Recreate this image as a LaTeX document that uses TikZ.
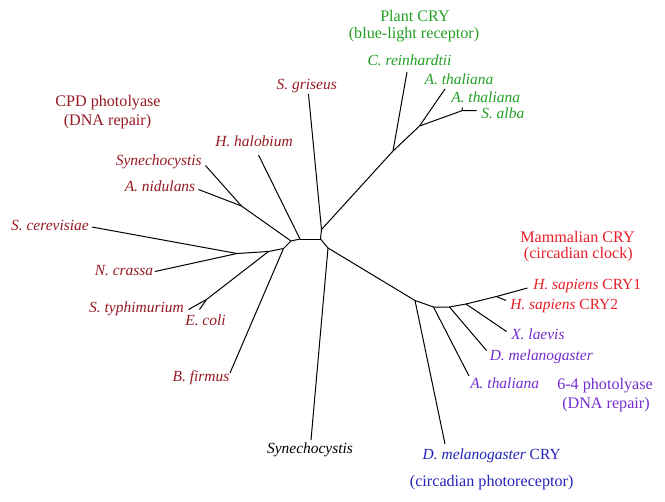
\documentclass[tikz,border=0pt]{standalone}
\usepackage{fontspec}
\setmainfont{Liberation Serif}
\definecolor{cpd}{RGB}{150,25,35}
\definecolor{plant}{RGB}{35,160,35}
\definecolor{mamm}{RGB}{232,30,40}
\definecolor{sixfour}{RGB}{115,45,205}
\definecolor{dmcry}{RGB}{35,35,185}
\begin{document}
\begin{tikzpicture}[x=0.75pt,y=-0.75pt,
  br/.style={line width=0.75pt,black},
  lab/.style={inner sep=0pt,font=\fontsize{11.6}{13}\selectfont\itshape},
  grp/.style={inner sep=0pt,font=\fontsize{12.1}{14}\selectfont}]
\useasboundingbox (0,0) rectangle (665,501);
% internal nodes
\coordinate (E) at (300,239);
\coordinate (F) at (320.5,239);
\coordinate (D) at (291,241);
\coordinate (A) at (283.5,248.5);
\coordinate (B) at (268.5,251.5);
\coordinate (C) at (237,253.5);
\coordinate (ET) at (206.5,299.5);
\coordinate (SN) at (241.5,206);
\coordinate (G) at (321.5,229.5);
\coordinate (P) at (393,151);
\coordinate (Q) at (419.5,126);
\coordinate (R) at (462,110.7);
\coordinate (H) at (328,248);
\coordinate (I) at (415,300.5);
\coordinate (J) at (433.5,307);
\coordinate (K) at (449.5,307);
\coordinate (L) at (466,304);
\coordinate (M) at (496.5,296.5);
% leaf ends
\coordinate (scE) at (92,227);
\coordinate (ncE) at (155,271.5);
\coordinate (ecE) at (199.5,309.5);
\coordinate (stE) at (188.5,309.5);
\coordinate (bfE) at (230,373);
\coordinate (synE) at (205.5,165.5);
\coordinate (anE) at (198.5,189.5);
\coordinate (hhE) at (258.5,155);
\coordinate (sgE) at (308.5,94);
\coordinate (crE) at (407,72);
\coordinate (at1E) at (445,89);
\coordinate (at2E) at (462.5,107.5);
\coordinate (saE) at (476.5,110.7);
\coordinate (sybE) at (311,440);
\coordinate (dmcE) at (445,444);
\coordinate (atpE) at (469,376);
\coordinate (dmE) at (486.5,350.5);
\coordinate (xlE) at (506.5,331.5);
\coordinate (c2E) at (506,300.5);
\coordinate (c1E) at (527.5,288);
% branches
\draw[br] (E) -- (F);
\draw[br] (E) -- (D) -- (A) -- (B) -- (C);
\draw[br] (C) -- (scE);
\draw[br] (C) -- (ncE);
\draw[br] (B) -- (ET);
\draw[br] (ET) -- (ecE);
\draw[br] (ET) -- (stE);
\draw[br] (A) -- (bfE);
\draw[br] (D) -- (SN);
\draw[br] (SN) -- (synE);
\draw[br] (SN) -- (anE);
\draw[br] (E) -- (hhE);
\draw[br] (F) -- (G);
\draw[br] (G) -- (sgE);
\draw[br] (G) -- (P) -- (Q) -- (R) -- (saE);
\draw[br] (P) -- (crE);
\draw[br] (Q) -- (at1E);
\draw[br] (R) -- (at2E);
\draw[br] (F) -- (H);
\draw[br] (H) -- (sybE);
\draw[br] (H) -- (I) -- (J) -- (K) -- (L) -- (M) -- (c1E);
\draw[br] (I) -- (dmcE);
\draw[br] (J) -- (atpE);
\draw[br] (K) -- (dmE);
\draw[br] (L) -- (xlE);
\draw[br] (M) -- (c2E);
% labels CPD
\node[grp,text=cpd] (cpd1) at (108,103) {CPD photolyase};
\node[grp,text=cpd] (cpd2) at (107.5,122) {(DNA repair)};
\node[lab,text=cpd,anchor=east] (sc) at (89,225) {S. cerevisiae};
\node[lab,text=cpd,anchor=east] (nc) at (153.5,271) {N. crassa};
\node[lab,text=cpd,anchor=east] (st) at (184,309) {S. typhimurium};
\node[lab,text=cpd] (ec) at (205.5,320) {E. coli};
\node[lab,text=cpd] (bf) at (201,378) {B. firmus};
\node[lab,text=cpd,anchor=east] (an) at (195.5,186.5) {A. nidulans};
\node[lab,text=cpd,anchor=east] (syr) at (202,161.5) {Synechocystis};
\node[lab,text=cpd] (hh) at (254,141.5) {H. halobium};
\node[lab,text=cpd] (sg) at (306.7,86) {S. griseus};
% plant
\node[grp,text=plant] (pl1) at (415,15.7) {Plant CRY};
\node[grp,text=plant] (pl2) at (414,35) {(blue-light receptor)};
\node[lab,text=plant] (cr) at (409.5,60.5) {C. reinhardtii};
\node[lab,text=plant] (at1) at (459,79) {A. thaliana};
\node[lab,text=plant,anchor=west] (at2) at (451,97.5) {A. thaliana};
\node[lab,text=plant,anchor=west] (sa) at (481,113) {S. alba};
% mammalian
\node[grp,text=mamm] (mm1) at (577.5,236.7) {Mammalian CRY};
\node[grp,text=mamm] (mm2) at (578.3,255) {(circadian clock)};
\node[lab,text=mamm,anchor=west] (c1) at (533,286.5) {H. sapiens\/\upshape\ CRY1};
\node[lab,text=mamm,anchor=west] (c2) at (510,306.5) {H. sapiens\/\upshape\ CRY2};
% 6-4
\node[lab,text=sixfour,anchor=west] (xl) at (511,334) {X. laevis};
\node[lab,text=sixfour,anchor=west] (dm) at (489.5,356.5) {D. melanogaster};
\node[lab,text=sixfour,anchor=west] (atp) at (470,383) {A. thaliana};
\node[grp,text=sixfour] (sf1) at (605,386) {6-4 photolyase};
\node[grp,text=sixfour] (sf2) at (606,405) {(DNA repair)};
% others
\node[lab,text=black] (syb) at (310,450) {Synechocystis};
\node[lab,text=dmcry] (dmc) at (491.7,456) {D. melanogaster\/\upshape\ CRY};
\node[grp,text=dmcry] (dmc2) at (491.7,482.7) {(circadian photoreceptor)};
\end{tikzpicture}
\end{document}
